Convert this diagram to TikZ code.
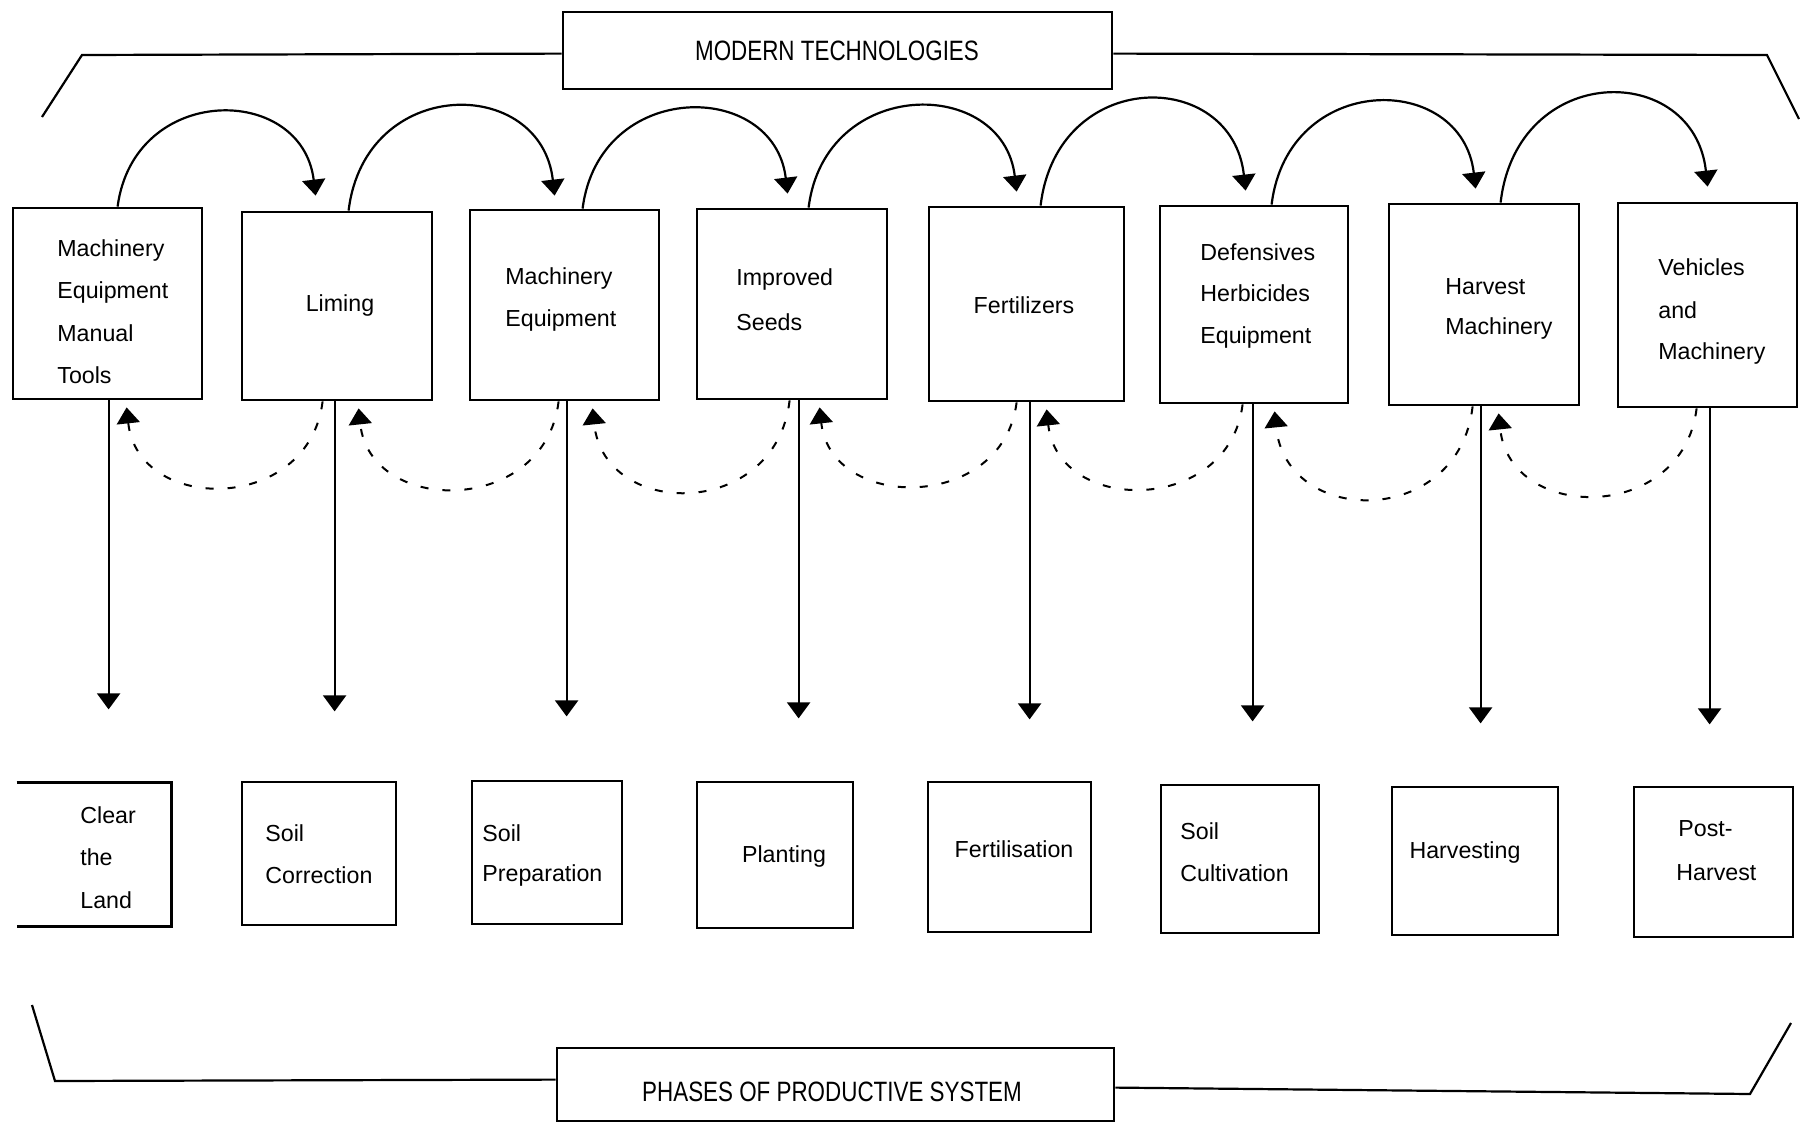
\documentclass[tikz,border=0pt]{standalone}
\usepackage{fontspec}
\setmainfont{Liberation Sans}
\newfontfamily\titlefont{Liberation Sans}[FakeStretch=0.8]
\usetikzlibrary{arrows.meta,fit,calc}

\begin{document}
\begin{tikzpicture}[x=0.5pt,y=-0.5pt,
  box/.style={draw, line width=1.4pt, inner sep=0pt},
  frame/.style={inner sep=0pt},
  lbl/.style={font=\fontsize{11.6}{14}\selectfont, inner sep=0pt},
  lblw/.style={lbl, anchor=west},
  ttl/.style={font=\titlefont\fontsize{14}{16}\selectfont, inner sep=0pt},
  bracket/.style={line width=1.1pt, line join=miter},
  tip/.style={-{Triangle[width=11.5pt,length=8pt]}},
  flow/.style={line width=1.1pt, tip},
  down/.style={line width=1pt, tip},
  back/.style={line width=1pt, dash pattern=on 4pt off 7pt, tip}
]
\useasboundingbox (0,0) rectangle (1800,1124);

% ---------- title boxes ----------
\node[box, fit={(563,12) (1112,89)}] (mt) {};
\node[ttl] (mtlabel) at (837,51) {MODERN TECHNOLOGIES};
\node[box, fit={(557,1048) (1114,1121)}] (ph) {};
\node[ttl] (phlabel) at (832,1092) {PHASES OF PRODUCTIVE SYSTEM};

% ---------- bracket lines ----------
\coordinate (tlk) at (82,55);
\coordinate (tle) at (42,117);
\coordinate (trk) at (1767,55);
\coordinate (tre) at (1799,119);
\coordinate (blk) at (55,1081);
\coordinate (ble) at (32,1005);
\coordinate (brk) at (1750,1094);
\coordinate (bre) at (1791,1023);
\draw[bracket] ($(mt.north west)+(0,43)$) -- (tlk) -- (tle);
\draw[bracket] ($(mt.north east)+(0,43)$) -- (trk) -- (tre);
\draw[bracket] ($(ph.north west)+(0,33)$) -- (blk) -- (ble);
\draw[bracket] ($(ph.north east)+(0,41)$) -- (brk) -- (bre);

% ---------- technology boxes ----------
\node[box, fit={(13,208) (202,399)}] (t1) {};
\node[box, fit={(242,212) (432,400)}] (t2) {};
\node[box, fit={(470,210) (659,400)}] (t3) {};
\node[box, fit={(697,209) (887,399)}] (t4) {};
\node[box, fit={(929,207) (1124,401)}] (t5) {};
\node[box, fit={(1160,206) (1348,403)}] (t6) {};
\node[box, fit={(1389,204) (1579,405)}] (t7) {};
\node[box, fit={(1618,203) (1797,407)}] (t8) {};

\node[lblw] (t1a) at (57,250) {Machinery};
\node[lblw] (t1b) at (57,292) {Equipment};
\node[lblw] (t1c) at (57,333) {Manual};
\node[lblw] (t1d) at (57,375) {Tools};
\node[lbl]  (t2a) at (340,305) {Liming};
\node[lblw] (t3a) at (505,278) {Machinery};
\node[lblw] (t3b) at (505,320) {Equipment};
\node[lblw] (t4a) at (736,279) {Improved};
\node[lblw] (t4b) at (736,322) {Seeds};
\node[lbl]  (t5a) at (1024,305) {Fertilizers};
\node[lblw] (t6a) at (1200,252) {Defensives};
\node[lblw] (t6b) at (1200,293) {Herbicides};
\node[lblw] (t6c) at (1200,337) {Equipment};
\node[lblw] (t7a) at (1445,287) {Harvest};
\node[lblw] (t7b) at (1445,328) {Machinery};
\node[lblw] (t8a) at (1658,267) {Vehicles};
\node[lblw] (t8b) at (1658,310) {and};
\node[lblw] (t8c) at (1658,353) {Machinery};

% ---------- phase boxes ----------
\node[frame, fit={(17,783) (171,926)}] (b1) {};
\draw[line width=1.4pt] (b1.north west) -- (b1.north east) -- (b1.south east) -- (b1.south west);
\node[box, fit={(242,782) (396,925)}] (b2) {};
\node[box, fit={(472,781) (622,924)}] (b3) {};
\node[box, fit={(697,782) (853,928)}] (b4) {};
\node[box, fit={(928,782) (1091,932)}] (b5) {};
\node[box, fit={(1161,785) (1319,933)}] (b6) {};
\node[box, fit={(1392,787) (1558,935)}] (b7) {};
\node[box, fit={(1634,787) (1793,937)}] (b8) {};

\node[lblw] (b1a) at (80,815) {Clear};
\node[lblw] (b1b) at (80,857) {the};
\node[lblw] (b1c) at (80,900) {Land};
\node[lblw] (b2a) at (265,833) {Soil};
\node[lblw] (b2b) at (265,875) {Correction};
\node[lblw] (b3a) at (482,833) {Soil};
\node[lblw] (b3b) at (482,875) {Preparation};
\node[lbl]  (b4a) at (784,856) {Planting};
\node[lbl]  (b5a) at (1014,849) {Fertilisation};
\node[lblw] (b6a) at (1180,831) {Soil};
\node[lblw] (b6b) at (1180,873) {Cultivation};
\node[lbl]  (b7a) at (1465,852) {Harvesting};
\node[lblw] (b8a) at (1678,829) {Post-};
\node[lblw] (b8b) at (1676,873) {Harvest};

% ---------- forward arcs between technologies ----------
\draw[flow] ($(t1.north west)+(106,0)$) .. controls (134,83) and (302,83) .. ($(t2.north west)+(75,-15)$);
\draw[flow] ($(t2.north west)+(108,0)$) .. controls (365,75) and (541,75) .. ($(t3.north west)+(86,-13)$);
\draw[flow] ($(t3.north west)+(114,0)$) .. controls (599,79) and (774,79) .. ($(t4.north west)+(92,-14)$);
\draw[flow] ($(t4.north west)+(113,0)$) .. controls (825,76) and (1003,76) .. ($(t5.north west)+(89,-14)$);
\draw[flow] ($(t5.north west)+(113,0)$) .. controls (1057,67) and (1232,67) .. ($(t6.north west)+(87,-14)$);
\draw[flow] ($(t6.north west)+(113,0)$) .. controls (1288,71) and (1462,71) .. ($(t7.north west)+(88,-14)$);
\draw[flow] ($(t7.north west)+(113,0)$) .. controls (1517,61) and (1694,61) .. ($(t8.north west)+(91,-15)$);

% ---------- technologies feeding the phases ----------
\draw[down] ($(t1.south west)+(97,0)$) -- ++(0,309);
\draw[down] ($(t2.south west)+(94,0)$) -- ++(0,310);
\draw[down] ($(t3.south west)+(98,0)$) -- ++(0,315);
\draw[down] ($(t4.south west)+(103,0)$) -- ++(0,318);
\draw[down] ($(t5.south west)+(102,0)$) -- ++(0,317);
\draw[down] ($(t6.south west)+(94,0)$) -- ++(0,317);
\draw[down] ($(t7.south west)+(93,0)$) -- ++(0,317);
\draw[down] ($(t8.south west)+(93,0)$) -- ++(0,316);

% ---------- dashed feedback arcs ----------
\draw[back] ($(t2.south west)+(82,0)$) .. controls (309,514) and (138,514) .. ($(t1.south west)+(115,7)$);
\draw[back] ($(t3.south west)+(90,0)$) .. controls (545,516) and (370,516) .. ($(t2.south west)+(118,7)$);
\draw[back] ($(t4.south west)+(94,0)$) .. controls (776,520) and (604,520) .. ($(t3.south west)+(124,7)$);
\draw[back] ($(t5.south west)+(89,0)$) .. controls (1003,512) and (831,512) .. ($(t4.south west)+(124,7)$);
\draw[back] ($(t6.south west)+(84,0)$) .. controls (1229,515) and (1058,515) .. ($(t5.south west)+(119,7)$);
\draw[back] ($(t7.south west)+(85,0)$) .. controls (1459,528) and (1286,528) .. ($(t6.south west)+(116,7)$);
\draw[back] ($(t8.south west)+(80,0)$) .. controls (1683,523) and (1510,523) .. ($(t7.south west)+(111,7)$);
\end{tikzpicture}
\end{document}
